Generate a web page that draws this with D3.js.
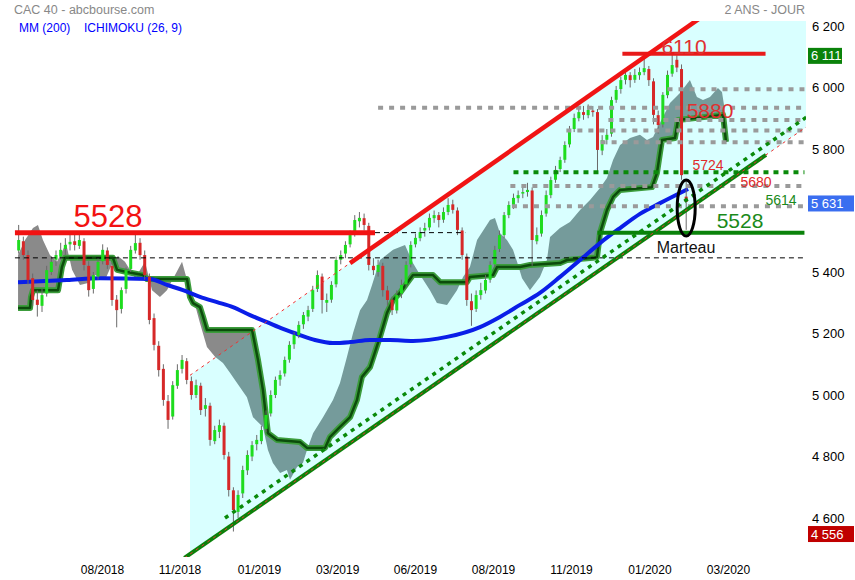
<!DOCTYPE html>
<html>
<head>
<meta charset="utf-8">
<script src="https://cdn.jsdelivr.net/npm/d3@7"></script>
<style>
  body { margin: 0; background: #fff; }
  svg { font-family: "Liberation Sans", Arial, sans-serif; }
</style>
</head>
<body>
<div id="chart"></div>
<script>
// daily candles, grouped by 3 sessions: [open, high, low, close]
const candleStart = 12;
const candleStep = 3;
const candles = [
  [5470,5553,5460,5504],[5500,5515,5440,5455],[5455,5470,5360,5374],[5380,5395,5290,5309],[5310,5340,5255,5293],[5290,5345,5270,5325],
  [5330,5420,5320,5406],[5400,5450,5390,5433],[5440,5470,5420,5455],[5450,5495,5440,5472],[5475,5510,5455,5488],[5490,5525,5470,5498],
  [5500,5530,5470,5488],[5485,5522,5475,5504],[5500,5510,5405,5423],[5420,5435,5320,5341],[5345,5400,5330,5390],[5385,5445,5375,5433],
  [5435,5490,5425,5472],[5470,5480,5410,5423],[5420,5430,5290,5309],[5310,5325,5220,5276],[5280,5350,5265,5341],[5345,5415,5330,5406],
  [5410,5485,5400,5472],[5470,5530,5460,5494],[5495,5510,5440,5455],[5455,5470,5375,5390],[5385,5395,5230,5244],[5250,5265,5145,5163],
  [5160,5175,5060,5081],[5085,5100,4965,4984],[4980,5000,4890,4919],[4930,5045,4920,5032],[5030,5100,5020,5081],[5085,5130,5070,5114],
  [5110,5120,5035,5049],[5045,5060,4985,5000],[5000,5050,4990,5032],[5030,5040,4935,4951],[4955,4990,4930,4967],[4965,4975,4835,4854],
  [4850,4900,4840,4886],[4880,4920,4860,4902],[4900,4910,4790,4805],[4800,4815,4670,4691],[4690,4700,4556,4626],[4620,4690,4600,4675],
  [4680,4770,4665,4756],[4755,4820,4740,4805],[4800,4850,4785,4837],[4840,4870,4820,4854],[4850,4900,4840,4886],[4890,4950,4880,4935],
  [4940,5015,4930,5000],[5000,5060,4990,5049],[5050,5080,5030,5065],[5070,5125,5060,5114],[5115,5175,5105,5163],[5165,5205,5150,5195],
  [5195,5240,5185,5228],[5230,5270,5215,5260],[5255,5290,5240,5276],[5280,5355,5270,5341],[5345,5405,5335,5390],[5385,5395,5265,5309],
  [5300,5330,5270,5309],[5310,5370,5300,5358],[5360,5450,5350,5439],[5440,5470,5425,5455],[5460,5500,5445,5488],[5490,5535,5480,5520],
  [5525,5585,5515,5569],[5565,5595,5545,5576],[5575,5590,5535,5553],[5550,5560,5405,5423],[5420,5445,5390,5406],[5400,5440,5385,5423],
  [5420,5430,5320,5341],[5340,5355,5290,5309],[5310,5320,5260,5276],[5275,5340,5265,5325],[5330,5375,5315,5358],[5360,5435,5350,5423],
  [5425,5500,5415,5488],[5490,5525,5480,5511],[5510,5545,5500,5530],[5535,5560,5515,5543],[5545,5590,5535,5576],[5575,5600,5560,5585],
  [5585,5595,5545,5569],[5570,5610,5560,5595],[5595,5640,5585,5618],[5620,5635,5590,5602],[5600,5610,5520,5537],[5535,5545,5440,5455],
  [5450,5460,5290,5309],[5305,5330,5225,5276],[5280,5340,5270,5325],[5325,5365,5310,5341],[5340,5390,5330,5374],[5375,5435,5365,5423],
  [5425,5485,5415,5472],[5475,5535,5465,5520],[5520,5595,5510,5585],[5585,5630,5575,5618],[5615,5655,5605,5641],[5640,5665,5625,5650],
  [5655,5680,5640,5660],[5660,5690,5645,5667],[5665,5675,5420,5504],[5500,5545,5490,5520],[5525,5600,5515,5585],[5590,5665,5580,5650],
  [5650,5710,5640,5699],[5700,5745,5690,5732],[5735,5775,5725,5764],[5765,5825,5755,5813],[5815,5875,5805,5862],[5865,5915,5855,5901],
  [5900,5935,5890,5920],[5920,5940,5895,5911],[5910,5945,5900,5927],[5925,5940,5905,5920],[5920,5930,5725,5797],[5795,5845,5780,5829],
  [5830,5865,5815,5846],[5850,5970,5840,5959],[5960,6005,5950,5992],[5995,6035,5980,6024],[6025,6060,6010,6041],[6040,6050,6000,6024],
  [6025,6060,6015,6041],[6040,6065,6025,6050],[6050,6095,6040,6063],[6060,6070,6005,6024],[6020,6030,5880,5911],[5910,5925,5850,5878],
  [5880,5985,5870,5976],[5975,6055,5965,6041],[6045,6111,6035,6073],[6090,6105,6050,6065],[6060,6075,5700,5715],[5645,5700,5537,5628]
];

// ichimoku cloud edges [bar, value], shifted 26 bars forward
const spanA = [
  [11.6,5455],[16.1,5504],[21.2,5543],[24.4,5553],[27.6,5504],[32.1,5455],[36.6,5433],[40.5,5472],[42.4,5494],[46.3,5407],
  [51.4,5358],[56.6,5364],[61.1,5390],[67.5,5374],[72.6,5433],[75.8,5452],[80.3,5433],[83.5,5407],[86.8,5380],[93.2,5433],
  [97.7,5341],[102.8,5319],[107.3,5341],[112.5,5390],[117,5433],[120.2,5374],[124,5319],[128.5,5234],[133,5156],[138.2,5124],
  [143.3,5104],[147.8,5072],[151,5049],[158.7,4993],[162.6,4928],[169,4896],[172.2,4821],[175.4,4779],[180,4746],[184.4,4756],
  [186.4,4724],[190.9,4766],[194.7,4779],[197.3,4821],[201.2,4876],[207.6,4928],[214,4984],[218.5,5039],[223,5124],[226.9,5202],
  [231.4,5276],[235.9,5309],[239.1,5358],[244.2,5439],[252.6,5472],[260.3,5488],[265.4,5429],[270,5390],[276.3,5341],[280.8,5299],
  [287.3,5293],[293.7,5341],[297.6,5384],[302,5416],[306.6,5504],[314.9,5569],[318.1,5576],[321.3,5527],[325.8,5504],[329.7,5472],
  [332.3,5433],[335.5,5380],[340.6,5341],[347,5384],[351.5,5439],[353.5,5514],[359.9,5543],[366.3,5563],[372.8,5602],[379.2,5634],
  [385.6,5673],[390.1,5706],[394,5764],[398.5,5813],[404.9,5836],[411.3,5846],[415.8,5829],[419.7,5839],[424.2,5885],[430.6,5950],
  [437,5982],[443.4,6024],[447.9,5969],[451.8,5959],[456.3,5969],[461.4,5998],[464,5985],[466.6,5901]
];
const spanB = [
  [11.6,5283],[19.3,5283],[19.9,5319],[21.2,5341],[37.3,5341],[39.8,5416],[41.8,5446],[72.6,5446],[75.2,5407],[81.6,5400],
  [91.9,5390],[94.5,5377],[120.2,5377],[122.1,5319],[124,5299],[128.5,5286],[130.5,5254],[133,5211],[162,5211],[165.8,5114],
  [169,5016],[172.2,4876],[178,4854],[192.8,4847],[197.3,4828],[208.9,4828],[212,4863],[218.5,4896],[225,4928],[229.4,4984],
  [232.6,5059],[237.8,5091],[239.7,5120],[244.2,5189],[248.7,5267],[252.6,5309],[257,5332],[261.6,5364],[265.4,5390],[278.3,5390],
  [282.8,5367],[300.1,5367],[302,5384],[316.8,5390],[319.4,5416],[334.2,5416],[340.6,5423],[359.9,5429],[364.4,5439],[381.1,5446],
  [383.7,5449],[385.6,5527],[390.1,5602],[394,5644],[398.5,5667],[419,5676],[422.2,5722],[425.4,5829],[433.8,5836],[435.7,5894],
  [464.7,5911],[466.6,5823]
];
const ma200 = [
  [11.6,5367],[43,5374],[64.3,5380],[96.4,5377],[107.3,5358],[117.6,5341],[128.5,5319],[139.5,5302],[149.7,5286],[160.7,5260],
  [171.6,5237],[181.9,5215],[192.8,5195],[202.4,5179],[214,5169],[225,5172],[237.8,5179],[250.6,5179],[265.4,5176],[287.3,5189],
  [308.5,5221],[321.3,5254],[334.2,5293],[347,5332],[359.9,5384],[372.8,5439],[385.6,5494],[398.5,5543],[411.3,5589],[424.2,5624],
  [442.2,5670]
];

const tickBars = [65.9, 115.7, 166.8, 217, 267, 317.2, 367.3, 417.7, 468.2];
const tickLabels = ["08/2018", "11/2018", "01/2019", "03/2019", "06/2019", "08/2019", "11/2019", "01/2020", "03/2020"];
// 5 600 sits under the 5 631 marker and is left out
const priceTicks = [4600, 4800, 5000, 5200, 5400, 5800, 6000, 6200];

// drawn levels and trend lines
const grayLevels = [5994, 5934, 5894, 5860, 5822, 5680, 5614];
const grayStarts = [429, 243, 391, 364, 386, 328, 329];
const levelEnd = 517;
const upperChannel = [[122.1, 5064], [225, 5429], [518, 6467]];
const lowerChannel = [[118.5, 4470], [492.3, 5781], [518, 5871]];
const dottedChannel = [[144.6, 4600], [519, 5906]];

const boxValues = [6111, 5631, 4556];
const boxColors = ["#0a820a", "#3a6ef0", "#c00000"];
const boxWidths = [34, 46, 46];

const x = d3.scaleLinear().domain([0, 518]).range([0, 806]);
const y = d3.scaleLinear().domain([4600, 6200]).range([518, 26]);
const fmt = v => d3.format(",")(v).replace(",", " ");
const line = d3.line().x(d => x(d[0])).y(d => y(d[1]));

const svg = d3.select("#chart").append("svg")
  .attr("width", 855)
  .attr("height", 580);

svg.append("defs").append("clipPath").attr("id", "plot")
  .append("rect").attr("x", 0).attr("y", 21).attr("width", 806).attr("height", 536);

const plot = svg.append("g").attr("clip-path", "url(#plot)");

// cloud
plot.append("path")
  .attr("d", line(spanA.concat(spanB.slice().reverse())) + "Z")
  .attr("fill", "#8a8a8a");

// channel tint (over the cloud)
const channel = [upperChannel[0], upperChannel[2], lowerChannel[2], [122.1, 4482]];
plot.append("path")
  .attr("d", line(channel) + "Z")
  .attr("fill", "rgba(0,255,255,0.15)");

// senkou B
plot.append("path").datum(spanB)
  .attr("d", line).attr("fill", "none")
  .attr("stroke", "#3c9c3c").attr("stroke-width", 6).attr("stroke-linejoin", "round");
plot.append("path").datum(spanB)
  .attr("d", line).attr("fill", "none")
  .attr("stroke", "#0c4c0c").attr("stroke-width", 2.5).attr("stroke-linejoin", "round");

// MM 200
plot.append("path").datum(ma200)
  .attr("d", d3.line().curve(d3.curveMonotoneX).x(d => x(d[0])).y(d => y(d[1])))
  .attr("fill", "none")
  .attr("stroke", "#0a1ee8")
  .attr("stroke-width", 4);

// candles
const cx = (d, i) => x(candleStart + i * candleStep);
plot.selectAll(".wick").data(candles).join("line")
  .attr("class", "wick")
  .attr("x1", cx).attr("x2", cx)
  .attr("y1", d => y(d[1])).attr("y2", d => y(d[2]))
  .attr("stroke", "#6a6a6a").attr("stroke-width", 1);
plot.selectAll(".body").data(candles).join("rect")
  .attr("class", "body")
  .attr("x", (d, i) => cx(d, i) - 1.5)
  .attr("width", 3)
  .attr("y", d => y(Math.max(d[0], d[3])))
  .attr("height", d => Math.max(1, Math.abs(y(d[0]) - y(d[3]))))
  .attr("fill", d => d[3] >= d[0] ? "#1edc1e" : "#d62828");

// horizontal levels
function hline(v, b0, b1, color, width, dash) {
  plot.append("line")
    .attr("x1", x(b0)).attr("x2", x(b1))
    .attr("y1", y(v)).attr("y2", y(v))
    .attr("stroke", color).attr("stroke-width", width)
    .attr("stroke-dasharray", dash || null);
}
grayLevels.forEach((v, i) => hline(v, grayStarts[i], levelEnd, "#9a9a9a", 4, "5,6"));
hline(5724, 330, levelEnd, "#0a8a0a", 4, "5,5");
hline(5446, 9.6, levelEnd, "#000", 1, "5,4");
hline(5528, 241, 299, "#000", 1, "5,4");
hline(5528, 9.6, 241, "#f21212", 5);
hline(6110, 400, 492, "#e81a1a", 4);
hline(5528, 384, levelEnd, "#0a820a", 4);

// trend lines
plot.append("path").datum(upperChannel.slice(0, 2))
  .attr("d", line).attr("stroke", "#f03030").attr("stroke-width", 1).attr("stroke-dasharray", "3,4");
plot.append("path").datum(upperChannel.slice(1))
  .attr("d", line).attr("stroke", "#f01414").attr("stroke-width", 4.5);
plot.append("path").datum(dottedChannel)
  .attr("d", line).attr("stroke", "#0a8a0a").attr("stroke-width", 3.5).attr("stroke-dasharray", "4,5");
plot.append("path").datum(lowerChannel.slice(0, 2))
  .attr("d", line).attr("stroke", "#0a820a").attr("stroke-width", 4);
plot.append("path").datum([lowerChannel[0], lowerChannel[2]])
  .attr("d", line).attr("stroke", "#f03030").attr("stroke-width", 1).attr("stroke-dasharray", "3,4");

// hammer
plot.append("ellipse")
  .attr("cx", x(441)).attr("cy", y(5608))
  .attr("rx", 9).attr("ry", 28)
  .attr("fill", "none").attr("stroke", "#000").attr("stroke-width", 3);

// annotations
const notes = [
  ["5528", 69.4, 5546, 31, "#f21212"],
  ["6110", 439.6, 6109, 21, "#e03030"],
  ["5880", 456.3, 5901, 21, "#e03030"],
  ["5724", 455, 5732, 14, "#e02a2a"],
  ["5680", 485.9, 5676, 14, "#e02a2a"],
  ["5614", 502, 5618, 14, "#1a8a1a"],
  ["5528", 475.6, 5543, 21, "#1a8a1a"],
  ["Marteau", 440.9, 5462, 16, "#111"]
];
svg.selectAll(".note").data(notes).join("text")
  .attr("class", "note")
  .attr("x", d => x(d[1])).attr("y", d => y(d[2]))
  .attr("text-anchor", "middle")
  .style("font-size", d => d[3] + "px")
  .attr("fill", d => d[4])
  .text(d => d[0]);

// right price axis
svg.selectAll(".ptick").data(priceTicks).join("text")
  .attr("class", "ptick")
  .attr("x", 812).attr("y", d => y(d))
  .attr("dy", "0.35em")
  .style("font-size", "13px")
  .attr("fill", "#000")
  .text(fmt);

const boxes = svg.selectAll(".box").data(boxValues).join("g").attr("class", "box")
  .attr("transform", d => `translate(808, ${y(d) + 2.5})`);
boxes.append("rect")
  .attr("x", 0).attr("y", -8)
  .attr("width", (d, i) => boxWidths[i]).attr("height", 16)
  .attr("fill", (d, i) => boxColors[i]);
boxes.append("text")
  .attr("x", 3).attr("dy", "0.35em")
  .style("font-size", "13px")
  .attr("fill", "#fff")
  .text(fmt);

// date axis
svg.selectAll(".dtick").data(tickBars).join("text")
  .attr("class", "dtick")
  .attr("x", d => x(d)).attr("y", 574)
  .attr("text-anchor", "middle")
  .style("font-size", "12px")
  .attr("fill", "#000")
  .text((d, i) => tickLabels[i]);

// header
svg.append("text").attr("x", 14).attr("y", 13.5)
  .style("font-size", "12.5px").attr("fill", "#888").text("CAC 40 - abcbourse.com");
svg.append("text").attr("x", 805).attr("y", 13.5).attr("text-anchor", "end")
  .style("font-size", "12.5px").attr("fill", "#888").text("2 ANS - JOUR");
svg.append("text").attr("x", 19).attr("y", 32)
  .style("font-size", "12px").attr("fill", "#0000ff").text("MM (200)");
svg.append("text").attr("x", 84).attr("y", 32)
  .style("font-size", "12px").attr("fill", "#0000ff").text("ICHIMOKU (26, 9)");
</script>
</body>
</html>
